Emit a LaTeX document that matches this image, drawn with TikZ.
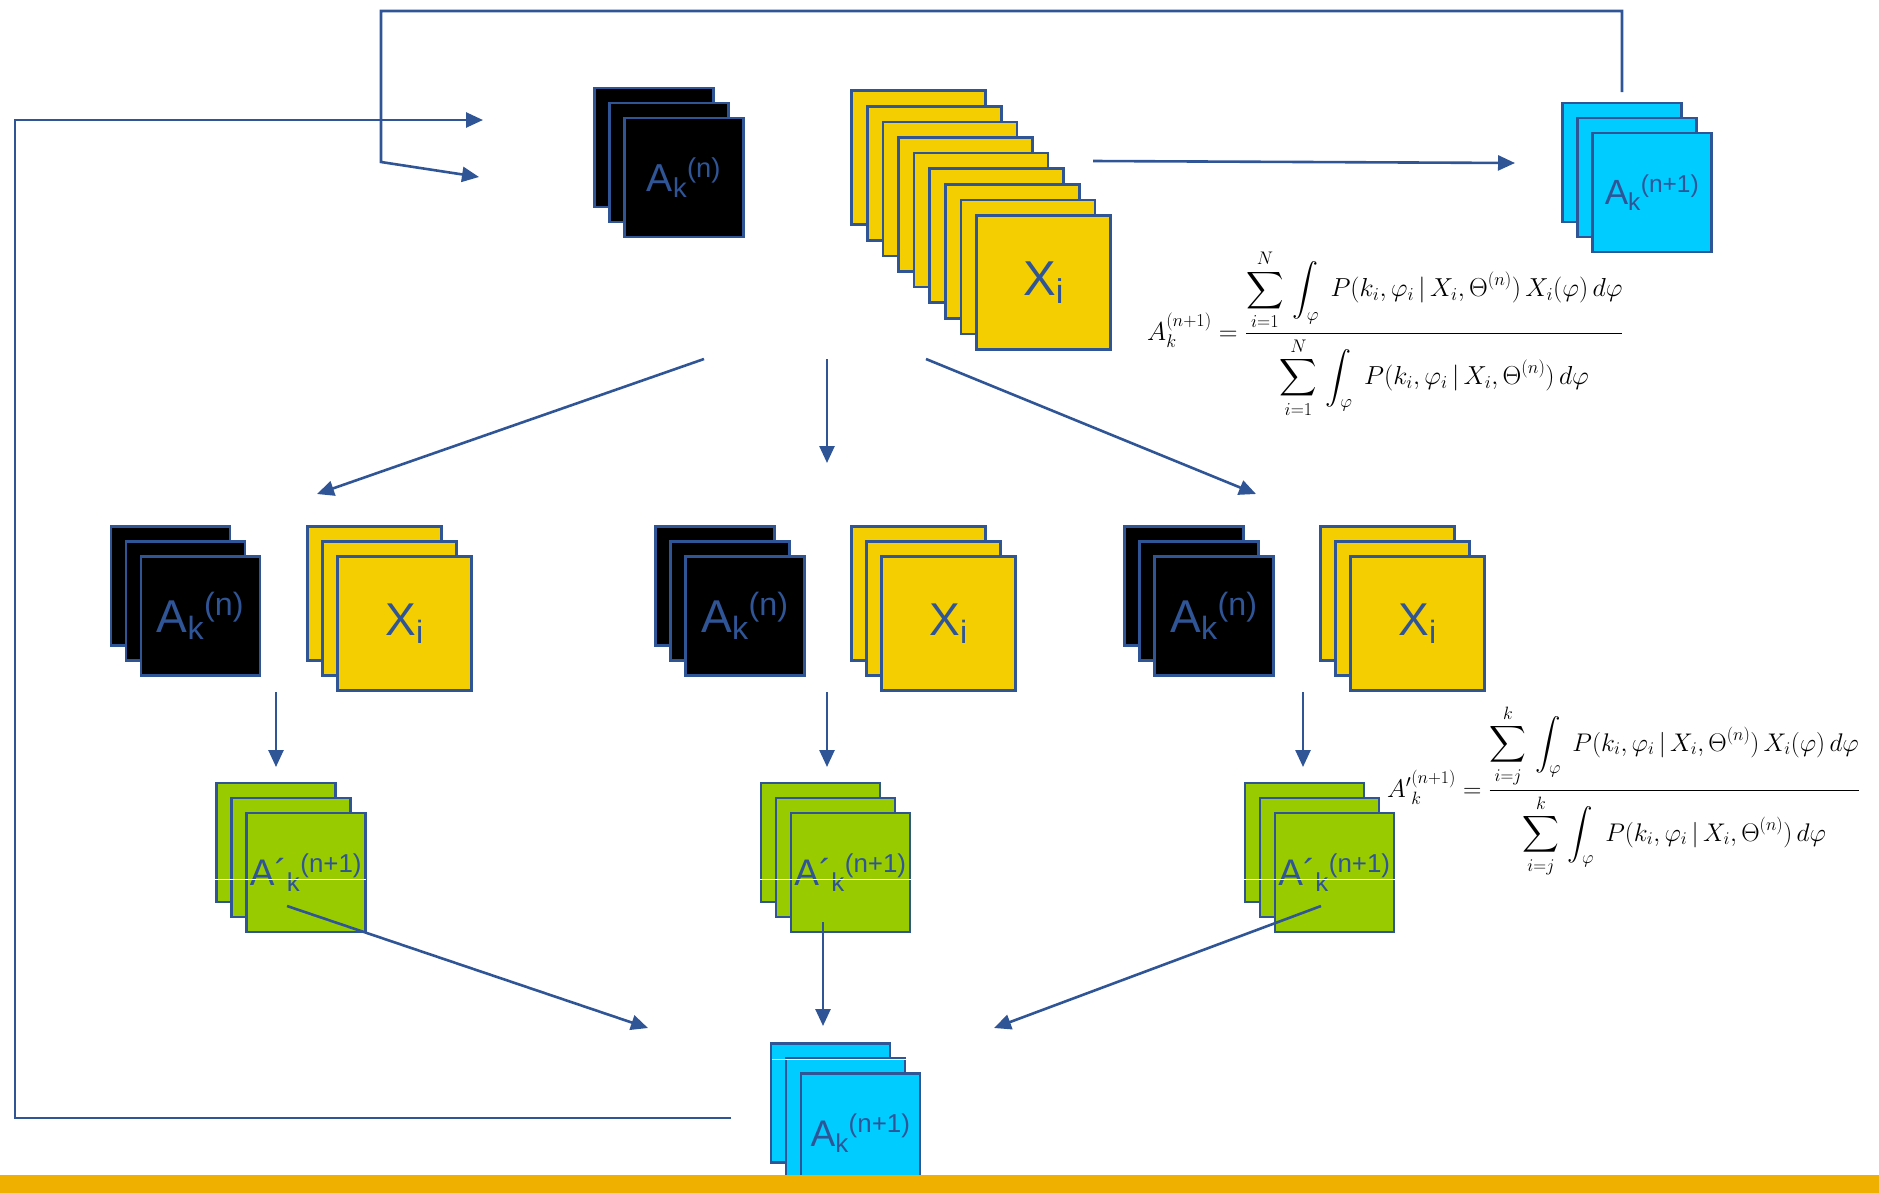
\documentclass[tikz,border=0pt]{standalone}
\usepackage{fix-cm}
\usepackage{amsmath}
\usepackage{amsfonts}
\usepackage{fontspec}
\newfontfamily\labelfont{Liberation Sans}
\usetikzlibrary{arrows.meta}
\definecolor{lineblue}{RGB}{47,85,151}
\definecolor{sheetyellow}{RGB}{244,206,0}
\definecolor{sheetcyan}{RGB}{0,204,255}
\definecolor{sheetgreen}{RGB}{153,204,0}
\definecolor{barorange}{RGB}{240,176,0}
\newcommand{\Alab}[1]{A$_{\text{k}}{}^{\text{(#1)}}$}
\newcommand{\Aplab}{A´$_{\text{k}}{}^{\text{(n+1)}}$}
\newcommand{\Xlab}{X$_{\text{i}}$}

\begin{document}
\begin{tikzpicture}[x=1pt,y=-1pt,
  sheet/.style={draw=lineblue,line width=2.6pt,minimum size=119pt,inner sep=0pt,text=lineblue},
  black sheet/.style={sheet,fill=black},
  yellow sheet/.style={sheet,fill=sheetyellow,minimum size=134pt},
  cyan sheet/.style={sheet,fill=sheetcyan},
  green sheet/.style={sheet,fill=sheetgreen},
  lab/.style={font={\labelfont\fontsize{#1}{#1}\selectfont}},
  flow/.style={draw=lineblue,line width=2.6pt,-{Triangle[length=17pt,width=15pt]}},
  formula/.style={inner sep=0pt,font=\fontsize{#1}{32}\selectfont}]
\useasboundingbox (0,0) rectangle (1879,1192);
        %nodes
        \foreach \s in {2,1} \node[black sheet,name=A0\s] at (684-15*\s,177.5-15*\s) {};
        \node[black sheet,lab=39] (A0) at (684,177.5) {\Alab{n}};
        \foreach \s in {8,...,1} \node[yellow sheet,name=X0\s] at (1043.5-15.6*\s,282.5-15.6*\s) {};
        \node[yellow sheet,lab=49] (X0) at (1043.5,282.5) {\Xlab};
        \foreach \s in {2,1} \node[cyan sheet,name=C0\s] at (1652-15*\s,192.5-15*\s) {};
        \node[cyan sheet,lab=35] (C0) at (1652,192.5) {\Alab{n+1}};

        \foreach \a/\b/\g [count=\n] in {200.5/404.5/306, 745/948.5/850.5, 1214/1417.5/1334.5}{
          \foreach \s in {2,1}{
            \node[black sheet,name=A\n\s] at (\a-15*\s,616-15*\s) {};
            \node[yellow sheet,name=X\n\s] at (\b-15*\s,623.5-15*\s) {};
            \node[green sheet,name=G\n\s] at (\g-15*\s,872.5-15*\s) {};
          }
          \node[black sheet,lab=46,name=A\n] at (\a,616) {\Alab{n}};
          \node[yellow sheet,lab=46,name=X\n] at (\b,623.5) {\Xlab};
          \node[green sheet,lab=37,name=G\n] at (\g,872.5) {\Aplab};
          \draw[white,line width=1pt] (\g-91,879) -- (\g+60,879);
        }

        \foreach \s in {2,1} \node[cyan sheet,name=C4\s] at (860.5-15*\s,1133-15*\s) {};
        \draw[white,line width=1pt] (772,1059) -- (906,1059);
        \node[cyan sheet,lab=37] (C4) at (860.5,1133) {\Alab{n+1}};

        \node[formula=26,anchor=base west] (F1) at (1147,340)
          {$A_k^{(n+1)}=\dfrac{\displaystyle\sum_{i=1}^{N}\,\int_{\varphi}\; P(k_i,\varphi_i\,|\,X_i,\Theta^{(n)})\,X_i(\varphi)\,d\varphi}{\displaystyle\sum_{i=1}^{N}\,\int_{\varphi}\; P(k_i,\varphi_i\,|\,X_i,\Theta^{(n)})\,d\varphi}$};
        \node[formula=25.5,anchor=base west] (F2) at (1387,797)
          {${A'}_k^{(n+1)}=\dfrac{\displaystyle\sum_{i=j}^{k}\,\int_{\varphi}\; P(k_i,\varphi_i\,|\,X_i,\Theta^{(n)})\,X_i(\varphi)\,d\varphi}{\displaystyle\sum_{i=j}^{k}\,\int_{\varphi}\; P(k_i,\varphi_i\,|\,X_i,\Theta^{(n)})\,d\varphi}$};

        %Edges
        \coordinate (b0) at (731,1118); \coordinate (b1) at (15,1118);
        \coordinate (b2) at (15,120);   \coordinate (in1) at (483,120);
        \draw[flow] (b0) -- (b1) -- (b2) -- (in1);
        \coordinate (r0) at (1622,92);  \coordinate (r1) at (1622,11);
        \coordinate (l1) at (381,11);   \coordinate (l2) at (381,162);
        \coordinate (in2) at (479,177);
        \draw[flow] (r0) -- (r1) -- (l1) -- (l2) -- (in2);
        \coordinate (o0) at (1093,161); \coordinate (o1) at (1515,163);
        \draw[flow] (o0) -- (o1);

        \coordinate (t1) at (704,359);  \coordinate (m1) at (317,494);
        \coordinate (t2) at (827,359);  \coordinate (m2) at (827,463);
        \coordinate (t3) at (926,359);  \coordinate (m3) at (1256,494);
        \foreach \n in {1,2,3} \draw[flow] (t\n) -- (m\n);

        \foreach \x [count=\n] in {276,827,1303}{
          \coordinate (d\n) at (\x,692); \coordinate (e\n) at (\x,767);
          \draw[flow] (d\n) -- (e\n);
        }

        \coordinate (g1) at (287,906);  \coordinate (h1) at (648,1028);
        \coordinate (g2) at (823,922);  \coordinate (h2) at (823,1026);
        \coordinate (g3) at (1321,906); \coordinate (h3) at (994,1028);
        \foreach \n in {1,2,3} \draw[flow] (g\n) -- (h\n);

        \fill[barorange] (0,1175) rectangle (1879,1200);
\end{tikzpicture}
\end{document}
